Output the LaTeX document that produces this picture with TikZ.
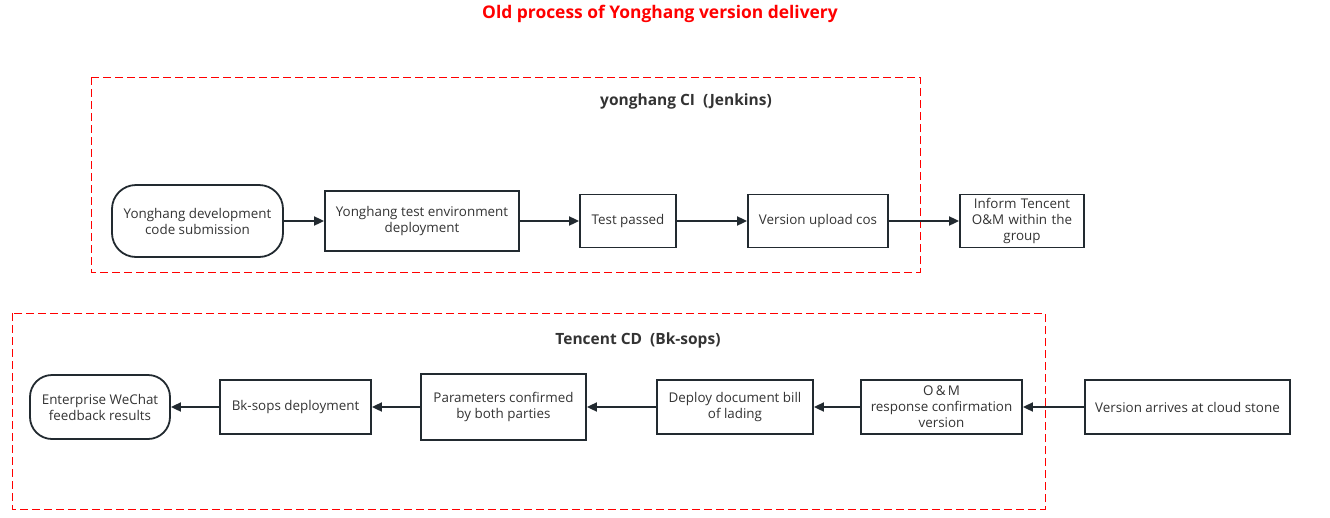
\documentclass[tikz,border=0pt]{standalone}
\usepackage{fontspec}
\setmainfont{Open Sans}
\usepackage{tikz}
\usetikzlibrary{shapes,arrows.meta,positioning}

\definecolor{ink}{HTML}{333333}
\definecolor{line}{HTML}{222A30}

\begin{document}
\begin{tikzpicture}[x=1pt, y=-1pt]
            \tikzstyle{every node} = [align=center, text=ink, font=\fontsize{13.4}{16}\selectfont]
            \tikzstyle{stepbox} = [draw=line, line width=1.8pt, inner sep=2pt]
            \tikzstyle{endbox} = [stepbox, rounded corners=24pt]
            \tikzstyle{group} = [draw=red, dashed, dash pattern=on 8pt off 4pt, line width=0.9pt]
            \tikzstyle{flow} = [draw=line, line width=1.8pt, -{Triangle[length=10pt, width=9pt]}]
            \useasboundingbox (0,0) rectangle (1330,517);

            % titles and groups
            \node[text=red, font=\fontsize{17.4}{18}\selectfont\bfseries](title) at (660,14){Old process of Yonghang version delivery};
            \draw[group] (91,77) rectangle (920,272);
            \draw[group] (12,313) rectangle (1045,509);
            \node[font=\fontsize{15.5}{16}\selectfont\bfseries](ci) at (686,101){yonghang CI\ \ (Jenkins)};
            \node[font=\fontsize{15.5}{16}\selectfont\bfseries](cd) at (638,340){Tencent CD\ \ (Bk-sops)};

            % CI row
            \node[endbox, minimum width=171pt, minimum height=72pt](dev) at (197.5,221){Yonghang development\\code submission};
            \node[stepbox, minimum width=194pt, minimum height=60pt](test) at (422,221){Yonghang test environment\\deployment};
            \node[stepbox, minimum width=96pt, minimum height=53pt](pass) at (628,221){Test passed};
            \node[stepbox, minimum width=140pt, minimum height=53pt](cos) at (818,221){Version upload cos};
            \node[stepbox, minimum width=124pt, minimum height=53pt, text width=118pt](inform) at (1022,221){Inform Tencent\\O\&M within the\\group};

            % CD row
            \node[endbox, rounded corners=22pt, minimum width=140pt, minimum height=64pt](wechat) at (100,407){Enterprise WeChat\\feedback results};
            \node[stepbox, minimum width=151pt, minimum height=54pt](bk) at (295.5,407){Bk-sops deployment};
            \node[stepbox, minimum width=165pt, minimum height=66pt](param) at (503.5,407){Parameters confirmed\\by both parties};
            \node[stepbox, minimum width=156pt, minimum height=54pt](bill) at (735,407){Deploy document bill\\of lading};
            \node[stepbox, minimum width=161pt, minimum height=54pt](resp) at (941.5,407){O\,\&\,M\\response confirmation\\version};
            \node[stepbox, minimum width=205pt, minimum height=54pt](cloud) at (1187.5,407){Version arrives at cloud stone};

            \draw[flow] (dev) -- (test);
            \draw[flow] (test) -- (pass);
            \draw[flow] (pass) -- (cos);
            \draw[flow] (cos) -- (inform);
            \draw[flow] (cloud) -- (resp);
            \draw[flow] (resp) -- (bill);
            \draw[flow] (bill) -- (param);
            \draw[flow] (param) -- (bk);
            \draw[flow] (bk) -- (wechat);
      \end{tikzpicture}
\end{document}
